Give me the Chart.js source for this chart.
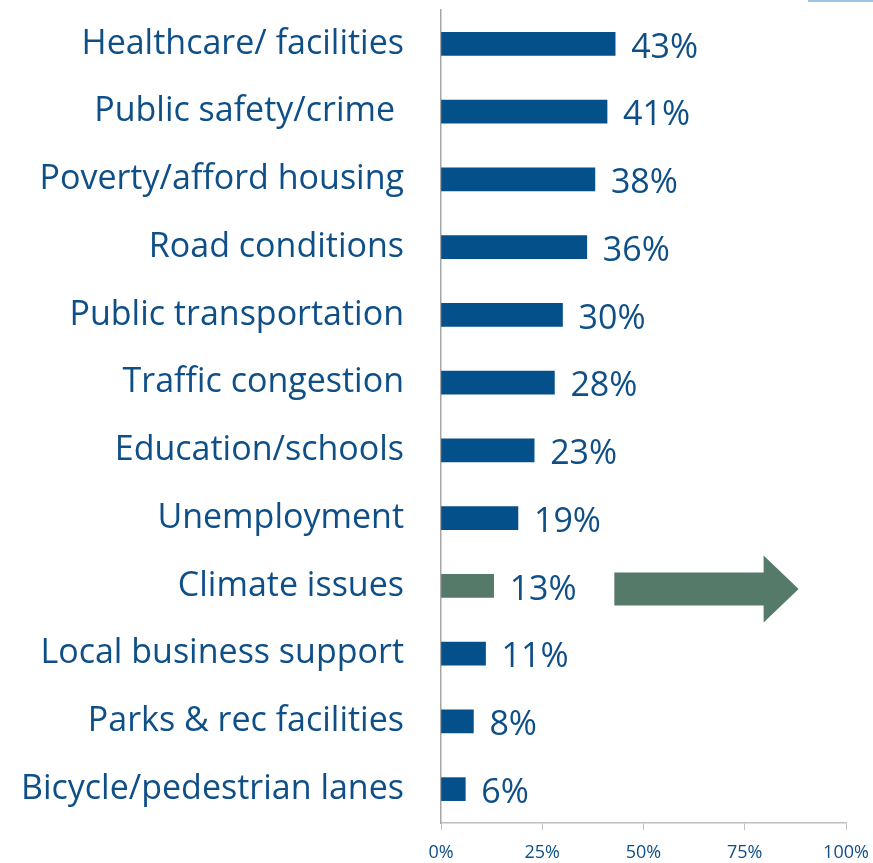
<!DOCTYPE html>
<html>
<head>
<meta charset="utf-8">
<script src="https://cdn.jsdelivr.net/npm/chart.js@4/dist/chart.umd.min.js"></script>
<style>
  html, body { margin: 0; padding: 0; background: #fff; }
  #wrap { position: relative; width: 873px; height: 863px; }
  #corner { position: absolute; left: 808px; top: 0; width: 65px; height: 2px; background: #9dc3e6; }
</style>
</head>
<body>
<div id="wrap">
  <canvas id="myChart" width="873" height="863"></canvas>
  <div id="corner"></div>
</div>
<script>
var categories = [
  "Healthcare/ facilities",
  "Public safety/crime ",
  "Poverty/afford housing",
  "Road conditions",
  "Public transportation",
  "Traffic congestion",
  "Education/schools",
  "Unemployment",
  "Climate issues",
  "Local business support",
  "Parks & rec facilities",
  "Bicycle/pedestrian lanes"
];
var values = [43, 41, 38, 36, 30, 28, 23, 19, 13, 11, 8, 6];
var tickValues = [0, 25, 50, 75, 100];
var highlight = "Climate issues";

var blue = "#04508a";
var green = "#557a6a";
var textColor = "#0f4f88";
var fontFamily = "'Open Sans', sans-serif";

// percent labels at the end of each bar
var valueLabels = {
  id: "valueLabels",
  afterDatasetsDraw: function (chart) {
    var ctx = chart.ctx;
    var meta = chart.getDatasetMeta(0);
    ctx.save();
    ctx.font = "34px " + fontFamily;
    ctx.fillStyle = textColor;
    ctx.textAlign = "left";
    ctx.textBaseline = "middle";
    meta.data.forEach(function (bar, i) {
      ctx.fillText(values[i] + "%", bar.x + 16, bar.y + 4);
    });
    ctx.restore();
  }
};

// green arrow beside the climate bar
var climateArrow = {
  id: "climateArrow",
  afterDatasetsDraw: function (chart) {
    var idx = categories.indexOf(highlight);
    var bar = chart.getDatasetMeta(0).data[idx];
    var x = chart.scales.x;
    var x0 = x.getPixelForValue(42.8);
    var x1 = x.getPixelForValue(88.3);
    var head = 35, shaft = 16.5, wing = 33.5;
    var y = bar.y + 3;
    var ctx = chart.ctx;
    ctx.save();
    ctx.fillStyle = green;
    ctx.beginPath();
    ctx.moveTo(x0, y - shaft);
    ctx.lineTo(x1 - head, y - shaft);
    ctx.lineTo(x1 - head, y - wing);
    ctx.lineTo(x1, y);
    ctx.lineTo(x1 - head, y + wing);
    ctx.lineTo(x1 - head, y + shaft);
    ctx.lineTo(x0, y + shaft);
    ctx.closePath();
    ctx.fill();
    ctx.restore();
  }
};

var ctx = document.getElementById("myChart").getContext("2d");
var myChart = new Chart(ctx, {
  type: "bar",
  data: {
    labels: categories,
    datasets: [
      {
        data: values,
        backgroundColor: categories.map(function (c) { return c === highlight ? green : blue; }),
        barThickness: 23,
        borderWidth: 0
      }
    ]
  },
  options: {
    indexAxis: "y",
    responsive: false,
    animation: false,
    layout: { padding: { top: 10, right: 27, left: 0, bottom: 0 } },
    plugins: {
      legend: { display: false },
      tooltip: { enabled: false }
    },
    scales: {
      x: {
        min: 0,
        max: 100,
        afterBuildTicks: function (scale) {
          scale.ticks = tickValues.map(function (v) { return { value: v }; });
        },
        afterFit: function (scale) {
          scale.height = 40;
          scale.paddingLeft = 0;
          scale.paddingRight = 0;
        },
        grid: {
          drawOnChartArea: false,
          drawTicks: true,
          tickLength: 7,
          color: "#bfbfbf"
        },
        border: { color: "#bfbfbf", width: 1.5 },
        ticks: {
          color: textColor,
          font: { family: fontFamily, size: 18 },
          padding: 12,
          maxRotation: 0,
          callback: function (v) { return v + "%"; }
        }
      },
      y: {
        afterFit: function (scale) {
          scale.width = 441;
          scale.paddingTop = 0;
          scale.paddingBottom = 0;
        },
        grid: { display: false, drawTicks: false },
        border: { color: "#a6a6a6", width: 1.5 },
        ticks: {
          color: textColor,
          font: { family: fontFamily, size: 34 },
          padding: 37
        }
      }
    }
  },
  plugins: [valueLabels, climateArrow]
});
</script>
</body>
</html>
